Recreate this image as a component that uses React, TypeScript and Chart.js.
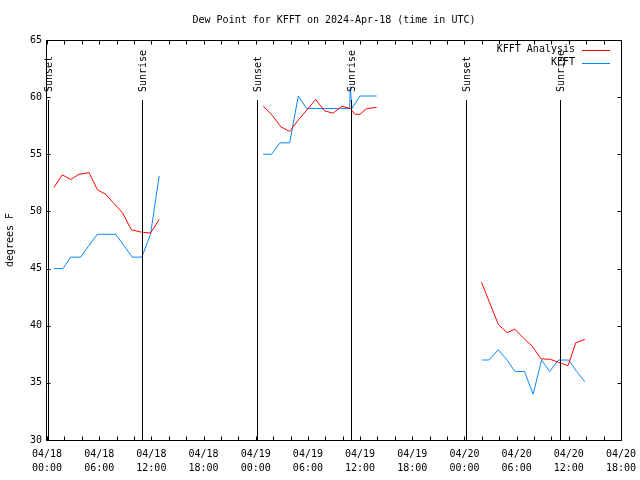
import React, { useEffect, useRef } from "react";
import { Chart, registerables } from "chart.js";

Chart.register(...registerables);

const FONT = '"DejaVu Sans Mono", "Liberation Mono", monospace';

const titleText = "Dew Point for KFFT on 2024-Apr-18 (time in UTC)";
const yAxisTitle = "degrees F";
const analysisLabel = "KFFT Analysis";
const obsLabel = "KFFT";

// hours since 2024-04-18 00:00 UTC (null value = gap in the record)
const analysisHours = [
  0.8, 1.76, 2.72, 3.68, 4.83, 5.79, 6.74, 7.7, 8.66, 9.7, 10.77, 11.9, 12.9,
  18,
  24.87, 25.9, 26.9, 27.9, 28.9, 29.9, 30.9, 31.9, 32.9, 33.9, 34.9, 35.4, 35.98, 36.75, 37.9,
  44,
  49.96, 51.9, 52.9, 53.8, 54.8, 55.8, 56.8, 57.9, 58.8, 59.9, 60.8, 61.84,
];
const analysisDewpt = [
  52.1, 53.2, 52.8, 53.25, 53.4, 51.9, 51.5, 50.7, 49.9, 48.4, 48.2, 48.1, 49.3,
  null,
  59.2, 58.4, 57.4, 57.0, 58.0, 58.9, 59.8, 58.8, 58.6, 59.2, 59.0, 58.5, 58.5, 59.0, 59.1,
  null,
  43.8, 40.1, 39.4, 39.7, 38.9, 38.2, 37.1, 37.06, 36.8, 36.5, 38.5, 38.8,
];

const obsHours = [
  0.8, 1.84, 2.72, 3.87, 4.8, 5.8, 6.85, 7.9, 8.85, 9.8, 10.9, 11.9, 12.9,
  18,
  24.87, 25.8, 26.8, 27.9, 28.9, 29.85, 30.9, 31.9, 32.9, 33.9, 34.8, 34.88, 35.05, 36.0, 36.9, 37.9,
  44,
  50.0, 50.8, 51.9, 52.9, 53.8, 54.9, 55.9, 56.86, 57.8, 58.8, 60.0, 60.9, 61.84,
];
const obsDewpt = [
  45.0, 45.0, 46.0, 46.0, 47.0, 48.0, 48.0, 48.0, 47.0, 46.0, 46.0, 48.0, 53.1,
  null,
  55.0, 55.0, 56.0, 56.0, 60.1, 59.0, 59.0, 59.0, 59.0, 59.0, 59.0, 60.9, 59.0, 60.1, 60.1, 60.1,
  null,
  37.0, 37.0, 37.9, 37.0, 36.0, 36.0, 34.0, 37.0, 36.0, 37.0, 37.0, 36.0, 35.1,
];

const xTickDates = ["04/18", "04/18", "04/18", "04/18", "04/19", "04/19", "04/19", "04/19", "04/20", "04/20", "04/20", "04/20"];
const xTickTimes = ["00:00", "06:00", "12:00", "18:00", "00:00", "06:00", "12:00", "18:00", "00:00", "06:00", "12:00", "18:00"];

const sunEventHours = [0.12, 10.97, 24.14, 34.95, 48.2, 58.93];
const sunEventLabels = ["Sunset", "Sunrise", "Sunset", "Sunrise", "Sunset", "Sunrise"];
const sunLineTop = 59.75;

const analysisColor = "#ff0000";
const obsColor = "#0a87ff";

const gnuplotDecor = {
  id: "gnuplotDecor",
  afterDatasetsDraw(chart: any) {
    const { ctx, chartArea: a, scales } = chart;
    const xs = scales.x;
    const ys = scales.y;
    const L = Math.round(a.left) - 0.5;
    const R = Math.round(a.right) + 0.5;
    const T = Math.round(a.top) + 0.5;
    const B = Math.round(a.bottom) + 0.5;
    ctx.save();
    ctx.strokeStyle = "#000";
    ctx.lineWidth = 1;
    ctx.beginPath();
    ctx.rect(L, T, R - L, B - T);
    ctx.stroke();

    // x tics every 2 hours
    ctx.beginPath();
    for (let h = 0; h <= 66; h += 2) {
      const px = Math.round(xs.getPixelForValue(h)) + 0.5;
      ctx.moveTo(px, B);
      ctx.lineTo(px, B - 4);
      ctx.moveTo(px, T);
      ctx.lineTo(px, T + 4);
    }
    for (let v = 30; v <= 65; v += 5) {
      const py = Math.round(ys.getPixelForValue(v)) + 0.5;
      ctx.moveTo(L, py);
      ctx.lineTo(L + 4, py);
      ctx.moveTo(R, py);
      ctx.lineTo(R - 4, py);
    }
    ctx.stroke();

    // sunrise / sunset markers
    ctx.font = "10px " + FONT;
    ctx.fillStyle = "#000";
    const yTop = Math.round(ys.getPixelForValue(sunLineTop));
    sunEventHours.forEach((h, i) => {
      const px = Math.round(xs.getPixelForValue(h)) + 0.5;
      ctx.beginPath();
      ctx.moveTo(px, yTop);
      ctx.lineTo(px, B);
      ctx.stroke();
      ctx.save();
      ctx.translate(px + 1, yTop - 8);
      ctx.rotate(-Math.PI / 2);
      ctx.textAlign = "left";
      ctx.textBaseline = "middle";
      ctx.fillText(sunEventLabels[i], 0, 0);
      ctx.restore();
    });

    // legend
    chart.data.datasets.forEach((ds: any, i: number) => {
      const y = 49.5 + 13 * i;
      ctx.textAlign = "right";
      ctx.textBaseline = "middle";
      ctx.fillStyle = "#000";
      ctx.fillText(ds.label, 575, y);
      ctx.strokeStyle = ds.borderColor;
      ctx.beginPath();
      ctx.moveTo(582, Math.round(y) + 0.5);
      ctx.lineTo(610, Math.round(y) + 0.5);
      ctx.stroke();
    });
    ctx.restore();
  },
};

export default function App() {
  const ref = useRef<HTMLCanvasElement | null>(null);

  useEffect(() => {
    if (!ref.current) return;
    const analysisData = analysisHours.map((h, i) => ({ x: h, y: analysisDewpt[i] }));
    const obsData = obsHours.map((h, i) => ({ x: h, y: obsDewpt[i] }));
    const chart = new Chart(ref.current, {
      type: "line",
      data: {
        datasets: [
          {
            label: analysisLabel,
            data: analysisData as any,
            borderColor: analysisColor,
            backgroundColor: analysisColor,
            borderWidth: 1,
            pointRadius: 0,
            tension: 0,
            spanGaps: false,
          },
          {
            label: obsLabel,
            data: obsData as any,
            borderColor: obsColor,
            backgroundColor: obsColor,
            borderWidth: 1,
            pointRadius: 0,
            tension: 0,
            spanGaps: false,
          },
        ],
      },
      options: {
        responsive: false,
        animation: false,
        layout: { padding: { left: 0, right: 19, top: 0, bottom: 0 } },
        plugins: {
          legend: { display: false },
          tooltip: { enabled: false },
          title: {
            display: true,
            text: titleText,
            fullSize: false,
            color: "#000",
            font: { family: FONT, size: 10, weight: "normal", lineHeight: 1.2 },
            padding: { top: 14, bottom: 14 },
          },
        },
        scales: {
          x: {
            type: "linear",
            min: 0,
            max: 66,
            grid: { display: false, drawTicks: false },
            border: { display: false },
            ticks: {
              stepSize: 2,
              autoSkip: false,
              maxRotation: 0,
              minRotation: 0,
              padding: 7,
              color: "#000",
              font: { family: FONT, size: 10, lineHeight: 1.4 },
              callback: (v: any) => {
                const n = Number(v);
                if (n % 6 !== 0) return "";
                const k = n / 6;
                return [xTickDates[k], xTickTimes[k]];
              },
            },
            afterFit: (s: any) => {
              s.height = 40;
              s.paddingLeft = 0;
              s.paddingRight = 0;
            },
          },
          y: {
            min: 30,
            max: 65,
            grid: { display: false, drawTicks: false },
            border: { display: false },
            ticks: {
              stepSize: 5,
              padding: 5,
              color: "#000",
              font: { family: FONT, size: 10 },
            },
            title: {
              display: true,
              text: yAxisTitle,
              color: "#000",
              font: { family: FONT, size: 10, lineHeight: 1.2 },
              padding: { top: 4, bottom: 0 },
            },
            afterFit: (s: any) => {
              s.width = 47;
              s.paddingTop = 0;
              s.paddingBottom = 0;
            },
          },
        },
      },
      plugins: [gnuplotDecor],
    });
    return () => chart.destroy();
  }, []);

  return (
    <div style={{ position: "fixed", left: 0, top: 0, width: 640, height: 480, background: "#fff" }}>
      <canvas ref={ref} width={640} height={480} style={{ display: "block" }} />
    </div>
  );
}
